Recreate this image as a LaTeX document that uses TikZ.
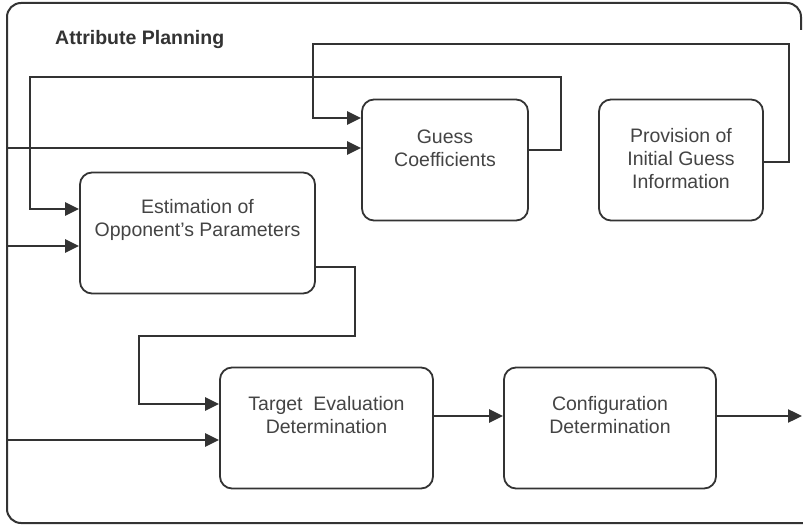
\documentclass[tikz,border=0pt]{standalone}
\usepackage{fontspec}
\setmainfont{Liberation Sans}
\usetikzlibrary{arrows.meta}
\definecolor{ink}{HTML}{333333}
\definecolor{txtc}{HTML}{444444}
\begin{document}
\begin{tikzpicture}[x=1pt,y=-1pt,
  blk/.style={draw=ink, line width=1.8pt, rounded corners=12pt, minimum width=#1, minimum height=121pt, inner sep=0pt},
  lbl/.style={align=center, font=\fontsize{19.5}{23}\selectfont, text=txtc},
  wire/.style={draw=ink, line width=2.4pt},
  arr/.style={wire, -{Triangle[length=14pt,width=13pt]}}]
\useasboundingbox (0,0) rectangle (803,526);
\fill[white] (0,0) rectangle (803,526);
% frame
\draw[ink, line width=2pt, rounded corners=14pt] (803,523) -| (7,3) -| (801,30);
\node[anchor=west, font=\bfseries\fontsize{19.5}{23}\selectfont, text=ink, inner sep=0pt] (title) at (55,40) {Attribute Planning};
% boxes
\node[blk=166pt] (gc) at (445,160) {};
\node[blk=164pt] (pv) at (681,160) {};
\node[blk=235pt] (est) at (197.5,233) {};
\node[blk=213pt] (ted) at (326.5,428) {};
\node[blk=212pt] (cfg) at (610,428) {};
% labels
\node[lbl] (gct) at (445,148.5) {Guess\\Coefficients};
\node[lbl] (pvt) at (681,158.5) {Provision of\\Initial Guess\\Information};
\node[lbl] (estt) at (197.5,220) {Estimation of\\Opponent's Parameters};
\node[lbl] (tedt) at (326.5,415) {Target\ \ Evaluation\\Determination};
\node[lbl] (cfgt) at (610,415.5) {Configuration\\Determination};
% free ends
\coordinate (in1) at (7,148);
\coordinate (in2) at (7,246);
\coordinate (in3) at (7,440);
\coordinate (out) at (802,416);
% connectors
\draw[arr] ([yshift=10pt]gc.east) -| (561,77) -| (30,209) -- ([yshift=24pt]est.west);
\draw[arr] ([yshift=-2pt]pv.east) -| (789,44) -| (313,118) -- ([yshift=42pt]gc.west);
\draw[arr] (in1) -- ([yshift=12pt]gc.west);
\draw[arr] (in2) -- ([yshift=-13pt]est.west);
\draw[arr] ([yshift=-34pt]est.east) -| (355,336) -| (139,404) -- ([yshift=24pt]ted.west);
\draw[arr] (in3) -- ([yshift=-12pt]ted.west);
\draw[arr] ([yshift=12pt]ted.east) -- ([yshift=12pt]cfg.west);
\draw[arr] ([yshift=12pt]cfg.east) -- (out);
\end{tikzpicture}
\end{document}
